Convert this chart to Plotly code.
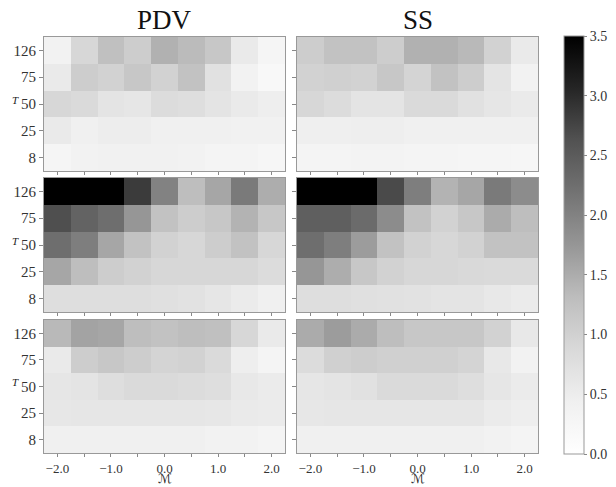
import plotly.graph_objects as go
from plotly.subplots import make_subplots

# ---------------- data ----------------
m_values = [-2.0, -1.5, -1.0, -0.5, 0.0, 0.5, 1.0, 1.5, 2.0]
tau_labels = ["8", "25", "50", "75", "126"]          # bottom -> top
x_tick_text = ["−2.0", "", "−1.0", "", "0.0", "", "1.0", "", "2.0"]
col_titles = ["PDV", "SS"]
cbar_ticks = [0.0, 0.5, 1.0, 1.5, 2.0, 2.5, 3.0, 3.5]

# rows: tau = 8, 25, 50, 75, 126
pdv_top = [
    [0.30, 0.38, 0.42, 0.42, 0.42, 0.38, 0.33, 0.33, 0.25],
    [0.55, 0.44, 0.50, 0.50, 0.44, 0.44, 0.44, 0.42, 0.42],
    [0.90, 0.86, 0.66, 0.62, 0.82, 0.78, 0.66, 0.55, 0.48],
    [0.55, 1.07, 0.99, 1.15, 0.99, 1.23, 0.73, 0.38, 0.20],
    [0.38, 0.90, 1.27, 1.07, 1.45, 1.33, 1.15, 0.55, 0.30],
]
ss_top = [
    [0.33, 0.33, 0.36, 0.36, 0.33, 0.33, 0.30, 0.30, 0.25],
    [0.45, 0.45, 0.48, 0.48, 0.44, 0.44, 0.44, 0.44, 0.44],
    [0.90, 0.82, 0.66, 0.66, 0.86, 0.86, 0.73, 0.62, 0.55],
    [0.99, 1.02, 0.99, 1.15, 0.96, 1.23, 1.07, 0.66, 0.38],
    [1.07, 1.23, 1.23, 1.07, 1.45, 1.45, 1.36, 0.99, 0.55],
]
pdv_mid = [
    [0.78, 0.78, 0.78, 0.78, 0.75, 0.70, 0.62, 0.53, 0.44],
    [1.57, 1.30, 1.07, 0.99, 0.90, 0.90, 0.90, 0.90, 0.82],
    [2.25, 2.05, 1.57, 1.23, 0.99, 0.90, 1.07, 1.23, 0.90],
    [2.65, 2.40, 2.25, 1.75, 1.23, 1.07, 1.15, 1.43, 1.15],
    [3.60, 3.60, 3.60, 2.85, 2.00, 1.30, 1.57, 2.10, 1.49],
]
ss_mid = [
    [0.78, 0.78, 0.75, 0.73, 0.70, 0.66, 0.66, 0.59, 0.53],
    [1.75, 1.49, 1.15, 0.99, 0.90, 0.90, 0.88, 0.86, 0.86],
    [2.25, 2.05, 1.68, 1.23, 0.99, 0.90, 0.99, 1.23, 1.23],
    [2.45, 2.45, 2.30, 1.87, 1.23, 0.99, 1.15, 1.52, 1.30],
    [3.60, 3.60, 3.60, 2.70, 2.05, 1.43, 1.57, 2.10, 1.87],
]
pdv_bot = [
    [0.44, 0.44, 0.44, 0.44, 0.44, 0.44, 0.38, 0.38, 0.33],
    [0.60, 0.62, 0.62, 0.62, 0.62, 0.62, 0.60, 0.55, 0.53],
    [0.62, 0.66, 0.78, 0.86, 0.86, 0.82, 0.78, 0.59, 0.53],
    [0.55, 1.07, 1.15, 1.07, 0.96, 0.99, 0.86, 0.48, 0.33],
    [1.36, 1.60, 1.57, 1.30, 1.23, 1.30, 1.27, 0.90, 0.55],
]
ss_bot = [
    [0.44, 0.44, 0.44, 0.44, 0.44, 0.44, 0.44, 0.38, 0.33],
    [0.60, 0.62, 0.62, 0.62, 0.62, 0.62, 0.62, 0.53, 0.48],
    [0.62, 0.66, 0.73, 0.86, 0.86, 0.86, 0.78, 0.62, 0.53],
    [0.82, 1.02, 1.07, 1.02, 1.02, 1.02, 0.96, 0.59, 0.38],
    [1.52, 1.68, 1.52, 1.30, 1.15, 1.15, 1.15, 0.99, 0.59],
]
panels = [[pdv_top, ss_top], [pdv_mid, ss_mid], [pdv_bot, ss_bot]]

# matplotlib "Greys" colormap
greys = [
    [0.0, "#ffffff"], [0.125, "#f0f0f0"], [0.25, "#d9d9d9"], [0.375, "#bdbdbd"],
    [0.5, "#969696"], [0.625, "#737373"], [0.75, "#525252"], [0.875, "#252525"],
    [1.0, "#000000"],
]

W, H = 616, 487
FONT = "Liberation Serif"

fig = make_subplots(rows=3, cols=2, horizontal_spacing=0.02, vertical_spacing=0.02)

for r in range(3):
    for c in range(2):
        fig.add_trace(
            go.Heatmap(
                z=panels[r][c],
                x=m_values,
                y=list(range(len(tau_labels))),
                coloraxis="coloraxis",
                hoverinfo="skip",
            ),
            row=r + 1, col=c + 1,
        )

x_domains = [[44 / W, 285 / W], [297 / W, 538 / W]]
y_px = [(37, 171), (178, 312), (320, 453)]
y_domains = [[1 - b / H, 1 - t / H] for t, b in y_px]

for r in range(3):
    for c in range(2):
        fig.update_xaxes(
            domain=x_domains[c], range=[-2.25, 2.25],
            tickvals=m_values, ticktext=x_tick_text,
            showticklabels=(r == 2),
            ticks="outside", ticklen=3, tickcolor="#888", tickwidth=1,
            showline=True, mirror=True, linecolor="#999", linewidth=1,
            showgrid=False, zeroline=False,
            tickfont=dict(family=FONT, size=13, color="#333"),
            row=r + 1, col=c + 1,
        )
        fig.update_yaxes(
            domain=y_domains[r], range=[-0.5, 4.5],
            tickvals=list(range(len(tau_labels))), ticktext=tau_labels,
            showticklabels=(c == 0),
            ticks="outside", ticklen=4, tickcolor="#888", tickwidth=1,
            showline=True, mirror=True, linecolor="#999", linewidth=1,
            showgrid=False, zeroline=False,
            tickfont=dict(family=FONT, size=15, color="#333"),
            row=r + 1, col=c + 1,
        )

annotations = []
for c, t in enumerate(col_titles):
    annotations.append(dict(
        text=t, x=sum(x_domains[c]) / 2, y=1 - 20 / H, xref="paper", yref="paper",
        xanchor="center", yanchor="middle", showarrow=False,
        font=dict(family=FONT, size=27, color="#111"),
    ))
    annotations.append(dict(
        text="ℳ", x=sum(x_domains[c]) / 2, y=0, xref="paper", yref="paper",
        xanchor="center", yanchor="bottom", showarrow=False, borderpad=0,
        font=dict(family="DejaVu Serif, DejaVu Sans", size=13, color="#222"),
    ))
for yp in [100, 241, 382]:
    annotations.append(dict(
        text="<i>T</i>", x=15 / W, y=1 - yp / H, xref="paper", yref="paper",
        xanchor="center", yanchor="middle", showarrow=False,
        font=dict(family=FONT, size=11, color="#222"),
    ))

fig.update_layout(
    width=W, height=H,
    margin=dict(l=0, r=0, t=0, b=0, autoexpand=False),
    paper_bgcolor="white", plot_bgcolor="white",
    annotations=annotations,
    coloraxis=dict(
        colorscale=greys, cmin=0, cmax=3.5,
        colorbar=dict(
            x=564 / W, xanchor="left", xpad=0, ypad=0,
            thicknessmode="pixels", thickness=20,
            lenmode="fraction", len=(454 - 36) / H,
            y=1 - 36 / H, yanchor="top",
            outlinewidth=1, outlinecolor="#999",
            tickvals=cbar_ticks, ticktext=[f"{v:.1f}" for v in cbar_ticks],
            ticks="outside", ticklen=3, tickcolor="#888",
            tickfont=dict(family=FONT, size=14, color="#333"),
        ),
    ),
    showlegend=False,
)

fig.write_html(
    "out.html",
    config={"displayModeBar": False},
    post_script="document.body.style.margin='0px';document.body.style.overflow='hidden';",
)
